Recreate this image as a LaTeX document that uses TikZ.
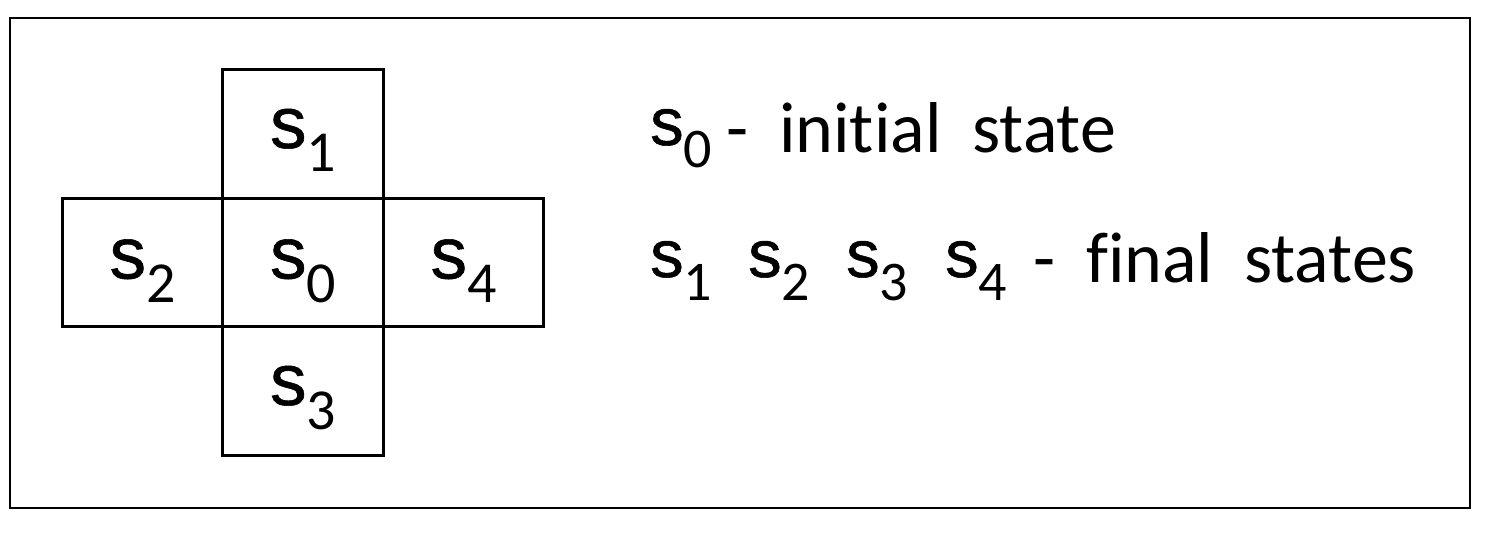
\documentclass[tikz,border=0pt]{standalone}
\usepackage{fontspec}
\setmainfont{Carlito}[Ligatures=NoCommon, WordSpace=1.9]
\newfontfamily\sletfont{Liberation Sans}[FakeBold=0.8]
\newcommand\stvbase[4]{{\fontsize{#1}{#1}\sletfont s}\raisebox{-#3pt}{\fontsize{#2}{#2}\selectfont #4}}
\newcommand\stvC[1]{\stvbase{73}{58}{24}{#1}}
\newcommand\stvL[1]{\stvbase{67}{56}{23}{#1}}
\tikzset{
  cell/.style={draw, line width=3.2pt, minimum width=160.5pt, minimum height=128.5pt, inner sep=0pt, anchor=center},
  clabel/.style={anchor=base, inner sep=0pt},
  legs/.style={anchor=base west, inner sep=0pt},
  legend/.style={anchor=base west, inner sep=0pt, font=\fontsize{72}{72}\selectfont},
  frame/.style={draw, line width=2pt}
}
\begin{document}
\begin{tikzpicture}[x=1pt,y=-1pt]
\useasboundingbox (0,0) rectangle (1490,540);
\draw[frame] (10,18) rectangle (1470,508);
\node[cell] (c0) at (303,262.5) {};
\node[cell] (c1) at (303,134) {};
\node[cell] (c3) at (303,391) {};
\node[cell] (c2) at (142.5,262.5) {};
\node[cell] (c4) at (463.5,262.5) {};
\node[clabel] (t0) at ([yshift=-16pt]c0.center) {\stvC{0}};
\node[clabel] (t1) at ([yshift=-14pt]c1.center) {\stvC{1}};
\node[clabel] (t3) at ([yshift=-14pt]c3.center) {\stvC{3}};
\node[clabel] (t2) at ([yshift=-16pt]c2.center) {\stvC{2}};
\node[clabel] (t4) at ([yshift=-16pt]c4.center) {\stvC{4}};
\node[legs] (l0) at (650,145) {\stvL{0}};
\node[legend] (l1) at (726,153) {- initial state};
\node[legs] (m1) at (650,277) {\stvL{1}};
\node[legs] (m2) at (748,277) {\stvL{2}};
\node[legs] (m3) at (846,277) {\stvL{3}};
\node[legs] (m4) at (945,277) {\stvL{4}};
\node[legend] (l2) at (1033,282) {- final states};
\end{tikzpicture}
\end{document}
